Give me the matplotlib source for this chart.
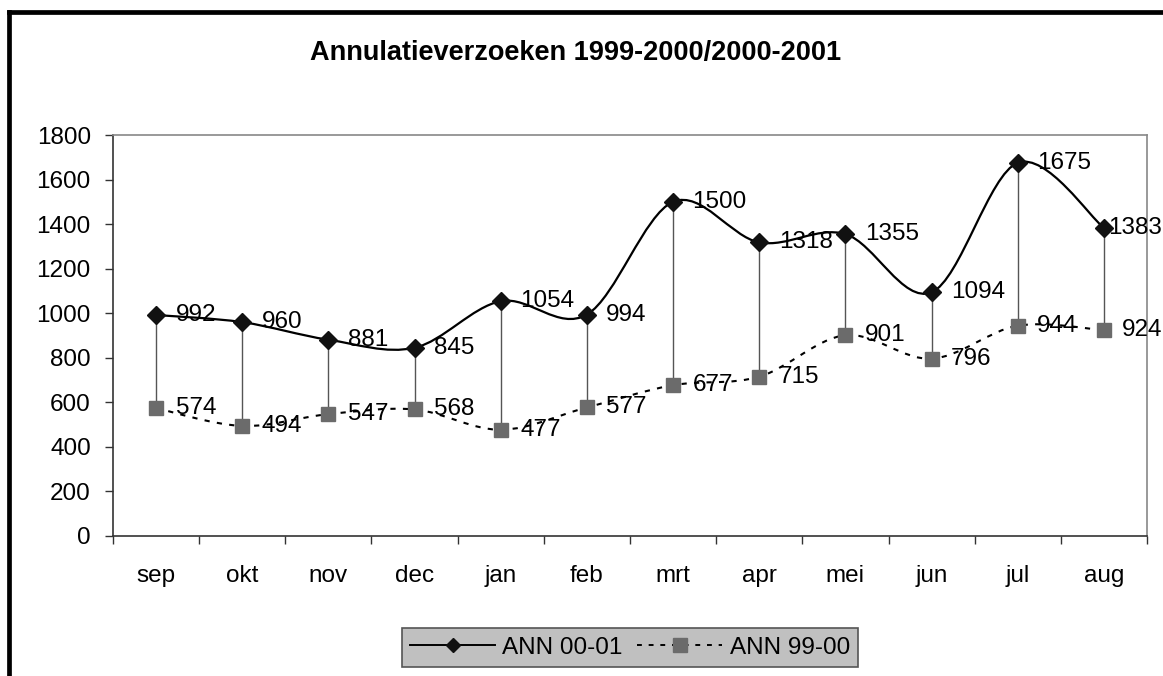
import matplotlib
matplotlib.use("Agg")
import matplotlib.pyplot as plt
import numpy as np
from matplotlib.path import Path
from matplotlib.patches import PathPatch
from matplotlib.lines import Line2D

plt.rcParams["font.family"] = ["Liberation Sans", "DejaVu Sans"]

# data
months = ["sep", "okt", "nov", "dec", "jan", "feb", "mrt", "apr", "mei", "jun", "jul", "aug"]
ann_00_01 = [992, 960, 881, 845, 1054, 994, 1500, 1318, 1355, 1094, 1675, 1383]
ann_99_00 = [574, 494, 547, 568, 477, 577, 677, 715, 901, 796, 944, 924]
y_ticks = [0, 200, 400, 600, 800, 1000, 1200, 1400, 1600, 1800]

FS = 17.5
W, H = 1163, 676


def smooth_path(xs, ys):
    """Excel-style smoothed line: cubic Bezier through every point."""
    pts = np.column_stack([xs, ys]).astype(float)
    n = len(pts)
    verts = [pts[0]]
    codes = [Path.MOVETO]
    for i in range(n - 1):
        p_prev = pts[i - 1] if i > 0 else pts[i]
        p_next2 = pts[i + 2] if i + 2 < n else pts[i + 1]
        c1 = pts[i] + (pts[i + 1] - p_prev) / 6.0
        c2 = pts[i + 1] - (p_next2 - pts[i]) / 6.0
        verts += [c1, c2, pts[i + 1]]
        codes += [Path.CURVE4] * 3
    return Path(verts, codes)


fig = plt.figure(figsize=(W / 100, H / 100), dpi=100)
ax = fig.add_axes([113 / W, 1 - 536 / H, (1147 - 113) / W, (536 - 135) / H])

x = np.arange(len(months))

# drop lines between the two series
ax.vlines(x, ann_99_00, ann_00_01, color="#555555", lw=1.0, zorder=2)

# smoothed lines
ax.add_patch(PathPatch(smooth_path(x, ann_00_01), fill=False, edgecolor="black",
                       lw=1.6, zorder=3))
ax.add_patch(PathPatch(smooth_path(x, ann_99_00), fill=False, edgecolor="black",
                       lw=1.5, linestyle=(0, (2.5, 3.5)), zorder=3))

# markers
ax.plot(x, ann_00_01, ls="none", marker="D", ms=9, color="#111111", zorder=4)
ax.plot(x, ann_99_00, ls="none", marker="s", ms=10, color="#6b6b6b", zorder=4)

# data labels
labels = []
for series in (ann_00_01, ann_99_00):
    for xi, v in zip(x, series):
        labels.append(ax.annotate(str(v), (xi, v), xytext=(14, 0), textcoords="offset points",
                                  ha="left", va="center", fontsize=FS, zorder=5,
                                  annotation_clip=False))

ax.set_xlim(-0.5, len(months) - 0.5)
ax.set_ylim(0, 1800)
ax.set_yticks(y_ticks)
ax.set_yticklabels([str(t) for t in y_ticks], fontsize=FS)
ax.set_xticks(x)
ax.set_xticklabels(months, fontsize=FS)
ax.set_xticks(np.arange(-0.5, len(months)), minor=True)
ax.tick_params(axis="x", which="major", length=0, pad=21)
ax.tick_params(axis="x", which="minor", length=6, width=1, color="#333333", direction="out")
ax.tick_params(axis="y", length=6, width=1, color="#333333", pad=10)

for side in ["left", "bottom"]:
    ax.spines[side].set_color("#333333")
    ax.spines[side].set_linewidth(1.2)
for side in ["top", "right"]:
    ax.spines[side].set_color("#888888")
    ax.spines[side].set_linewidth(1.2)

fig.text(576 / W, 1 - 53 / H, "Annulatieverzoeken 1999-2000/2000-2001",
         ha="center", va="center", fontsize=19.5, fontweight="bold")

# legend
handles = [
    Line2D([], [], color="black", lw=1.4, marker="D", ms=7.5, markerfacecolor="#111111",
           markeredgecolor="#111111"),
    Line2D([], [], color="black", lw=1.4, ls=(0, (2.5, 3.5)), marker="s", ms=9.5,
           markerfacecolor="#6b6b6b", markeredgecolor="#6b6b6b"),
]
leg = fig.legend(handles, ["ANN 00-01", "ANN 99-00"], loc="center",
                 bbox_to_anchor=(630 / W, 1 - 647.5 / H), ncol=2, fontsize=FS,
                 frameon=True, fancybox=False, framealpha=1, handlelength=3.5,
                 handletextpad=0.3, columnspacing=0.6, borderpad=0.35)
leg.get_frame().set_facecolor("#c0c0c0")
leg.get_frame().set_edgecolor("#555555")
leg.get_frame().set_linewidth(1.2)

# outer chart frame (only left and top edges are inside the picture)
fig.add_artist(Line2D([9 / W, 9 / W], [-0.1, 1 - 11.5 / H], color="black",
                      lw=3.4, transform=fig.transFigure, solid_capstyle="projecting"))
fig.add_artist(Line2D([9 / W, 1.1], [1 - 11.5 / H, 1 - 11.5 / H], color="black",
                      lw=3.4, transform=fig.transFigure, solid_capstyle="projecting"))

# like Excel, pull a label back in when it would run past the chart edge
fig.canvas.draw()
renderer = fig.canvas.get_renderer()
for lab in labels:
    bb = lab.get_window_extent(renderer)
    if bb.x1 > W - 1:
        dx_px = bb.x1 - (W - 1)
        ox, oy = lab.xyann
        lab.xyann = (ox - dx_px * 72 / 100, oy)

fig.savefig("out.png", dpi=100)
